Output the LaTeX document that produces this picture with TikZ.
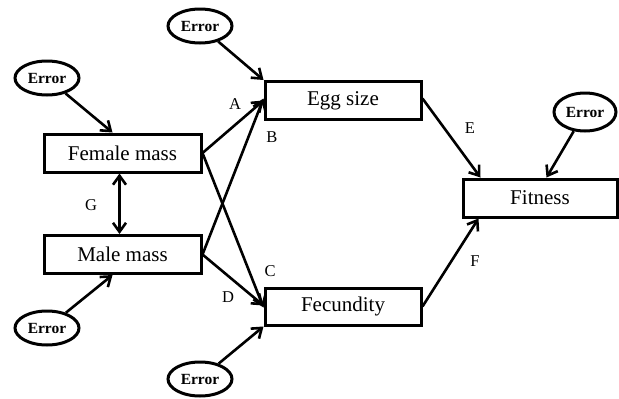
\documentclass[tikz,border=0pt]{standalone}
\usepackage{fontspec}
\setmainfont{Liberation Serif}
\usetikzlibrary{arrows.meta,shapes.geometric}
\tikzset{
  varbox/.style={draw, line width=3pt, minimum width=157pt, minimum height=38pt, inner sep=0pt, font=\fontsize{21}{24}\selectfont},
  errnode/.style={draw, ellipse, line width=3pt, minimum width=64pt, minimum height=34pt, inner sep=0pt, font=\bfseries\fontsize{15.5}{18}\selectfont},
  conn/.style={line width=2.6pt, -{Straight Barb[length=9pt,width=13pt,line width=2.6pt]}},
  dconn/.style={line width=2.6pt, {Straight Barb[length=9pt,width=13pt,line width=2.6pt]}-{Straight Barb[length=9pt,width=13pt,line width=2.6pt]}},
  lab/.style={font=\fontsize{16.5}{19}\selectfont, inner sep=0pt}
}
\begin{document}
\begin{tikzpicture}[x=1pt,y=-1pt]
\useasboundingbox (0,0) rectangle (619,399);
\node[varbox] (fm) at (122.5,153) {Female mass};
\node[varbox] (mm) at (122.5,254.5) {Male mass};
\node[varbox, minimum width=156pt] (egg) at (343,100.5) {Egg size};
\node[varbox, minimum width=156pt, minimum height=37pt] (fec) at (343,306.5) {Fecundity};
\node[varbox, minimum width=154pt] (fit) at (540,198) {Fitness};
\node[errnode] (e1) at (47,78) {Error};
\node[errnode] (e2) at (200,26) {Error};
\node[errnode, minimum width=62pt, minimum height=38pt] (e3) at (585,112) {Error};
\node[errnode] (e4) at (47,328) {Error};
\node[errnode] (e5) at (200,379) {Error};
\draw[conn] (e1) -- ([xshift=-10pt]fm.north);
\draw[conn] (e2) -- (egg.north west);
\draw[conn] (fm.east) -- (egg.west);
\draw[conn] (mm.east) -- ([yshift=2pt]egg.west);
\draw[conn] (fm.east) -- ([yshift=-1pt]fec.west);
\draw[conn] (mm.east) -- ([yshift=1pt]fec.west);
\draw[conn] (e4) -- ([xshift=-10pt]mm.south);
\draw[conn] (e5) -- (fec.south west);
\draw[conn] ([yshift=2pt]egg.east) -- ([xshift=19pt]fit.north west);
\draw[conn] (e3) -- ([xshift=85pt]fit.north west);
\draw[conn] (fec.east) -- ([xshift=17pt]fit.south west);
\draw[dconn] ([xshift=-3pt]fm.south) -- ([xshift=-3pt]mm.north);
\node[lab] (la) at (235,104) {A};
\node[lab] (lb) at (272,137) {B};
\node[lab] (lc) at (270,271) {C};
\node[lab] (ld) at (228,297) {D};
\node[lab] (le) at (470,128) {E};
\node[lab] (lf) at (475,261) {F};
\node[lab] (lg) at (91,205) {G};
\end{tikzpicture}
\end{document}
